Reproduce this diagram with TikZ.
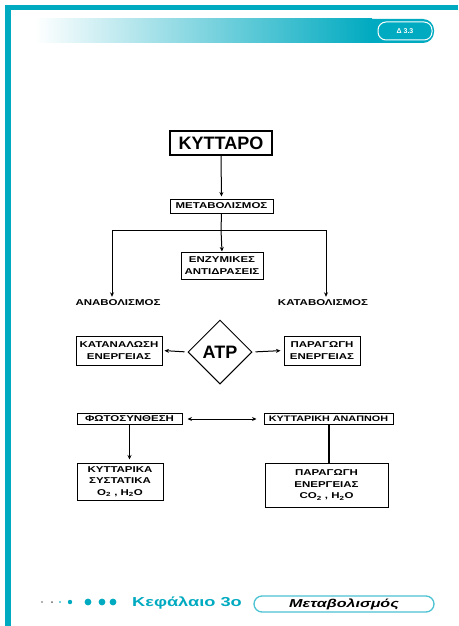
\documentclass[tikz,border=0pt]{standalone}
\usepackage{fontspec}
\setmainfont{Liberation Sans}
\newfontfamily\widefont[FakeStretch=1.35]{Liberation Sans}
\newfontfamily\footfont[FakeStretch=1.4]{Liberation Sans}
\usetikzlibrary{shapes.geometric,arrows.meta}
\definecolor{teal1}{RGB}{0,170,192}
\begin{document}
\begin{tikzpicture}[x=1pt,y=-1pt,
  box/.style={draw,line width=1pt,inner sep=0pt,align=center,
    font=\widefont\bfseries\fontsize{8.5}{11.5}\selectfont},
  lbl/.style={inner sep=3pt,font=\widefont\bfseries\fontsize{8.5}{10}\selectfont},
  arr/.style={line width=1pt,-{Stealth[length=4.5pt,width=4pt]}},
  ln/.style={line width=1pt}]
\useasboundingbox (0,0) rectangle (458,626);
\fill[white] (0,0) rectangle (458,626);
% frame
\fill[teal1] (5,5) rectangle (458,10);
\fill[teal1] (5,5) rectangle (11,626);
% header band
\fill[teal1, rounded corners=11pt] (360,19) rectangle (434,43);
\shade[left color=white, right color=teal1] (35,19) rectangle (372,43);
\node[draw=white, line width=1pt, fill=teal1, rounded corners=8pt, minimum width=54pt, minimum height=18pt, inner sep=0pt, text=white, font=\bfseries\fontsize{7}{8}\selectfont] (pill) at (405,31) {Δ 3.3};
% diagram
\node[draw, line width=1.4pt, minimum width=102pt, minimum height=24pt, inner sep=0pt, font=\bfseries\fontsize{18}{20}\selectfont] (kyt) at (221,143) {ΚΥΤΤΑΡΟ};
\node[box, minimum width=103pt, minimum height=14pt] (meta) at (221.5,206) {ΜΕΤΑΒΟΛΙΣΜΟΣ};
\coordinate (j) at (221,230);
\coordinate (jl) at (112,230);
\coordinate (jr) at (326,230);
\node[box, minimum width=82pt, minimum height=27pt] (enz) at (222,265.5) {ΕΝΖΥΜΙΚΕΣ\\ΑΝΤΙΔΡΑΣΕΙΣ};
\node[lbl] (anab) at (118,303) {ΑΝΑΒΟΛΙΣΜΟΣ};
\node[lbl] (katab) at (323,303) {ΚΑΤΑΒΟΛΙΣΜΟΣ};
\node[box, minimum width=86pt, minimum height=29pt] (kat) at (119,350.5) {ΚΑΤΑΝΑΛΩΣΗ\\ΕΝΕΡΓΕΙΑΣ};
\node[diamond, draw, line width=1pt, minimum width=64pt, minimum height=64pt, inner sep=0pt, font=\bfseries\fontsize{18}{20}\selectfont] (atp) at (220,352) {ATP};
\node[box, minimum width=76pt, minimum height=29pt] (par) at (322,350.5) {ΠΑΡΑΓΩΓΗ\\ΕΝΕΡΓΕΙΑΣ};
\node[box, minimum width=105pt, minimum height=11.5pt] (foto) at (129.5,419) {ΦΩΤΟΣΥΝΘΕΣΗ};
\node[box, minimum width=129pt, minimum height=11.5pt, font=\widefont\bfseries\fontsize{8}{10}\selectfont] (kyan) at (328.5,419) {ΚΥΤΤΑΡΙΚΗ ΑΝΑΠΝΟΗ};
\node[box, minimum width=86pt, minimum height=37pt] (sys) at (120,481.5) {ΚΥΤΤΑΡΙΚΑ\\ΣΥΣΤΑΤΙΚΑ\\O\textsubscript{2} , H\textsubscript{2}O};
\node[box, minimum width=123pt, minimum height=44pt] (paren) at (326.5,485) {ΠΑΡΑΓΩΓΗ\\ΕΝΕΡΓΕΙΑΣ\\CO\textsubscript{2} , H\textsubscript{2}O};
% connectors
\draw[arr, shorten >=2pt] (kyt.south) -- (meta.north);
\draw[ln] (meta.south) -- (j);
\draw[ln] (jl) -- (jr);
\draw[arr] (jl) -- (jl |- anab.north);
\draw[arr] (jr) -- (jr |- katab.north);
\draw[arr] (j) -- (enz.north);
\draw[arr, shorten <=3pt, shorten >=2pt] (atp.west) -- (kat.east);
\draw[arr, shorten <=3pt, shorten >=3pt] (atp.east) -- (par.west);
\draw[line width=1pt, {Stealth[length=4.5pt,width=4pt]}-{Stealth[length=4.5pt,width=4pt]}, shorten <=5pt, shorten >=7pt] (foto.east) -- (kyan.west);
\draw[arr, shorten >=3pt] (foto.south) -- (foto.south |- sys.north);
\draw[line width=2pt] (kyan.south) -- (kyan.south |- paren.north);
% footer
\foreach \x/\r/\c in {42/0.9/black!60, 52/1/black!60, 60/1.2/teal1!70, 70/2.2/teal1, 88/3.4/teal1, 102/3.4/teal1, 113/3.4/teal1}
  \fill[\c] (\x,602) circle (\r);
\node[inner sep=0pt, text=teal1, font=\footfont\bfseries\fontsize{13}{15}\selectfont] (chap) at (187,603) {Κεφάλαιο 3ο};
\node[draw=teal1!70, line width=1.3pt, rounded corners=8pt, minimum width=180pt, minimum height=16pt, inner sep=0pt, font=\footfont\bfseries\itshape\fontsize{11.5}{13}\selectfont] (metab) at (344,604) {Μεταβολισμός};
\end{tikzpicture}
\end{document}
